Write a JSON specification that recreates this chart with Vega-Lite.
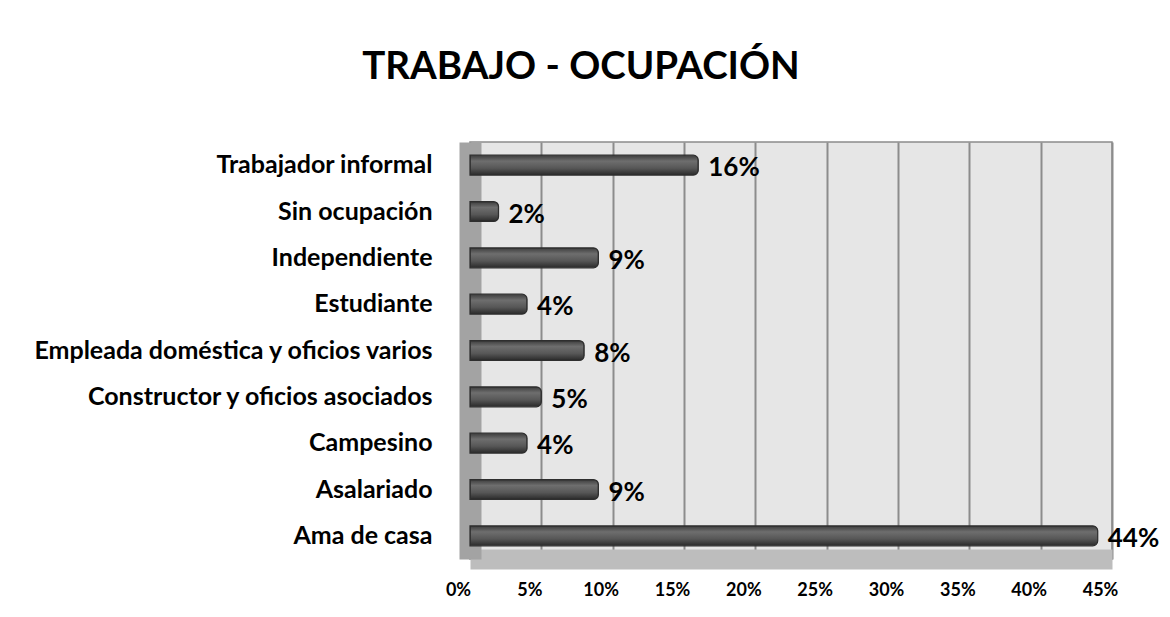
{
  "$schema": "https://vega.github.io/schema/vega-lite/v6.json",
  "autosize": "none",
  "width": 642,
  "height": 417,
  "padding": {"left": 470, "top": 142, "right": 58, "bottom": 58},
  "background": "white",
  "title": {
    "text": "TRABAJO - OCUPACIÓN",
    "font": "Lato",
    "fontSize": 38.5,
    "fontWeight": "bold",
    "color": "black",
    "anchor": "middle",
    "frame": "group",
    "dx": -210,
    "offset": 55
  },
  "data": {
    "values": [
      {"ocupacion": "Trabajador informal", "pct": 0.16},
      {"ocupacion": "Sin ocupación", "pct": 0.02},
      {"ocupacion": "Independiente", "pct": 0.09},
      {"ocupacion": "Estudiante", "pct": 0.04},
      {"ocupacion": "Empleada doméstica y oficios varios", "pct": 0.08},
      {"ocupacion": "Constructor y oficios asociados", "pct": 0.05},
      {"ocupacion": "Campesino", "pct": 0.04},
      {"ocupacion": "Asalariado", "pct": 0.09},
      {"ocupacion": "Ama de casa", "pct": 0.44}
    ]
  },
  "encoding": {
    "y": {
      "field": "ocupacion",
      "type": "nominal",
      "sort": null,
      "title": null,
      "scale": {"paddingInner": 0.57, "paddingOuter": 0.285},
      "axis": {
        "labelFont": "Lato",
        "labelFontSize": 25,
        "labelFontWeight": "bold",
        "labelColor": "black",
        "labelPadding": 38,
        "labelLimit": 500,
        "ticks": false,
        "domainColor": "#a3a3a3",
        "domainWidth": 22,
        "domainCap": "butt",
        "grid": false
      }
    },
    "x": {
      "field": "pct",
      "type": "quantitative",
      "title": null,
      "scale": {"domain": [0, 0.45]},
      "axis": {
        "values": [0, 0.05, 0.1, 0.15, 0.2, 0.25, 0.3, 0.35, 0.4, 0.45],
        "format": ".0%",
        "labelFont": "Lato",
        "labelFontSize": 18,
        "labelFontWeight": "bold",
        "labelColor": "black",
        "labelOffset": -12,
        "labelPadding": 22,
        "labelFlush": false,
        "ticks": false,
        "domainColor": "#bdbdbd",
        "domainWidth": 20,
        "grid": true,
        "gridColor": "#8c8c8c",
        "gridWidth": 2
      }
    }
  },
  "layer": [
    {
      "mark": {
        "type": "bar",
        "color": {
          "gradient": "linear",
          "x1": 0, "y1": 0, "x2": 0, "y2": 1,
          "stops": [
            {"offset": 0, "color": "#3c3c3c"},
            {"offset": 0.3, "color": "#6e6e6e"},
            {"offset": 0.65, "color": "#575757"},
            {"offset": 1, "color": "#2a2a2a"}
          ]
        },
        "stroke": "#2e2e2e",
        "strokeWidth": 1.2,
        "cornerRadiusEnd": 5
      }
    },
    {
      "mark": {"type": "text", "align": "left", "baseline": "middle", "dx": 10, "dy": 3, "font": "Lato", "fontSize": 26, "fontWeight": "bold", "color": "black"},
      "encoding": {"text": {"field": "pct", "type": "quantitative", "format": ".0%"}}
    }
  ],
  "config": {
    "view": {"fill": "#e6e6e6", "stroke": "#8c8c8c", "strokeWidth": 1.5}
  }
}
